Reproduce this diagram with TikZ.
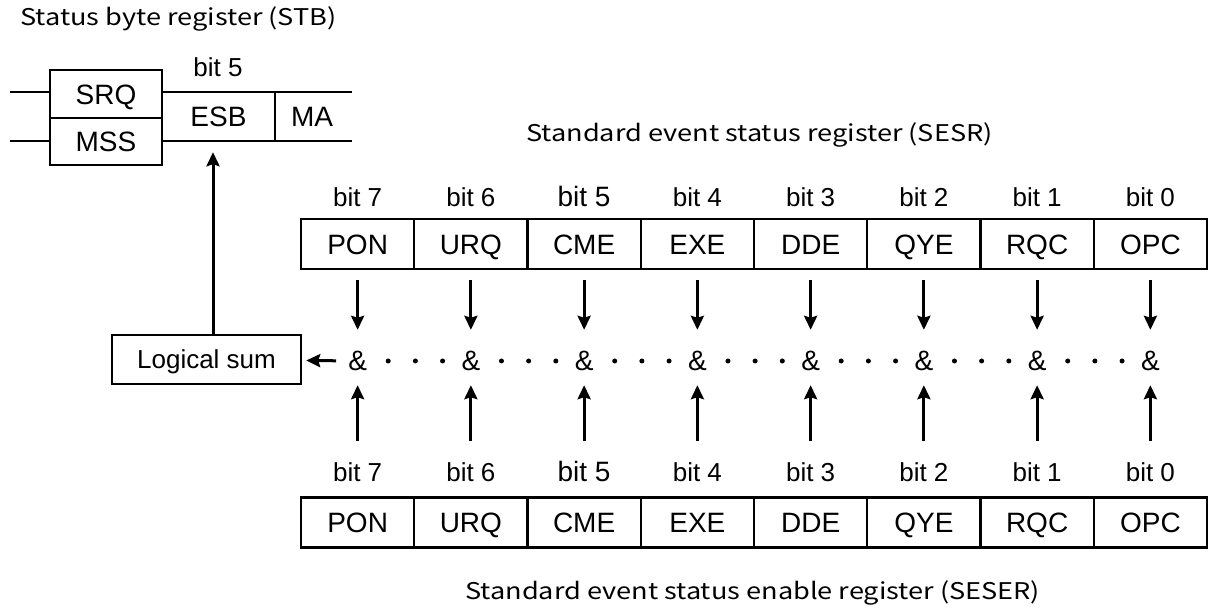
\documentclass[tikz,border=0pt]{standalone}
\usepackage{fontspec}
\setmainfont{Liberation Sans}
\newfontfamily\jpfont[FakeStretch=1.18]{Noto Sans CJK JP}
\usetikzlibrary{arrows.meta,calc,positioning}

\begin{document}
\begin{tikzpicture}[x=1pt,y=-1pt,
 regcell/.style={draw,line width=2.4pt,minimum width=113.25pt,minimum height=50pt,inner sep=0pt,text height=20.2pt,text depth=0pt,font=\fontsize{28}{30}\selectfont},
 stbcell/.style={draw,line width=2.4pt,minimum width=112pt,inner sep=0pt,text height=20.2pt,text depth=0pt,font=\fontsize{28}{30}\selectfont},
 bitlabel/.style={inner sep=0pt,text height=18.5pt,text depth=0pt,font=\fontsize{#1}{28}\selectfont},
 bitlabel/.default=26,
 titletext/.style={anchor=west,inner sep=0pt,font=\jpfont\fontsize{23}{25}\selectfont},
 andsign/.style={inner sep=0pt,text height=20pt,text depth=0pt,font=\fontsize{28}{30}\selectfont},
 bitarrow/.style={-{Stealth[length=14pt,width=13pt,inset=2pt]},line width=3pt}
]
\useasboundingbox[fill=white] (0,0) rectangle (1210,609);

% status byte register
\node[titletext] (stbtitle) at (20,19) {Status byte register (STB)};
\node[stbcell,minimum height=48pt] (srq) at (106,94) {SRQ};
\node[stbcell,minimum height=47pt] (mss) at (106,141.5) {MSS};
\node[inner sep=0pt,minimum width=113pt,minimum height=49pt,text height=20.2pt,text depth=0pt,font=\fontsize{28}{30}\selectfont] (esb) at (218.5,116.5) {ESB};
\node[inner sep=0pt,text height=20.2pt,text depth=0pt,font=\fontsize{28}{30}\selectfont] (ma) at (312,116.5) {MA};
\node[bitlabel] (esbbit) at (218,67) {bit 5};
\draw[line width=2.4pt] (10,92) -- (50,92) (10,141) -- (50,141);
\draw[line width=2.4pt] (162,92) -- (352,92) (162,141) -- (352,141) (275,92) -- (275,141);

% event status register and enable register
\node[titletext] (sesrtitle) at (526,135) {Standard event status register (SESR)};
\node[titletext] (sesertitle) at (465,593) {Standard event status enable register (SESER)};
\node[regcell,minimum width=189pt,minimum height=49pt,text height=19pt,font=\fontsize{26}{28}\selectfont] (sum) at (206.5,359.5) {Logical sum};

\foreach \name/\b in {PON/7,URQ/6,CME/5,EXE/4,DDE/3,QYE/2,RQC/1,OPC/0}{
  \pgfmathsetmacro{\cx}{301+113.25*(7.5-\b)}
  \pgfmathsetmacro{\bs}{ifthenelse(\b==5,28,26)}
  \node[regcell] (top\b) at (\cx,244) {\name};
  \node[regcell] (bot\b) at (\cx,522.5) {\name};
  \node[bitlabel=\bs] (tbit\b) at (\cx,197) {bit \b};
  \node[bitlabel=\bs] (bbit\b) at (\cx,472) {bit \b};
  \node[andsign] (amp\b) at (\cx,361) {\&};
  \draw[bitarrow,shorten <=10pt,shorten >=21pt] (top\b) -- (amp\b);
  \draw[bitarrow,shorten <=22pt,shorten >=14pt] (bbit\b) -- (amp\b);
}

% dots between the and signs
\foreach \b [evaluate=\b as \nb using int(\b-1)] in {7,6,5,4,3,2,1}{
  \foreach \f in {0.27,0.51,0.75}
    \fill ($(amp\b)!\f!(amp\nb)$) circle (2.5pt);
}

\draw[bitarrow,shorten <=12pt,shorten >=4pt] (amp7) -- (sum);
\draw[bitarrow,shorten >=11pt] ([xshift=6.5pt]sum.north) -- ([xshift=-5.5pt]esb.south);
\end{tikzpicture}
\end{document}
